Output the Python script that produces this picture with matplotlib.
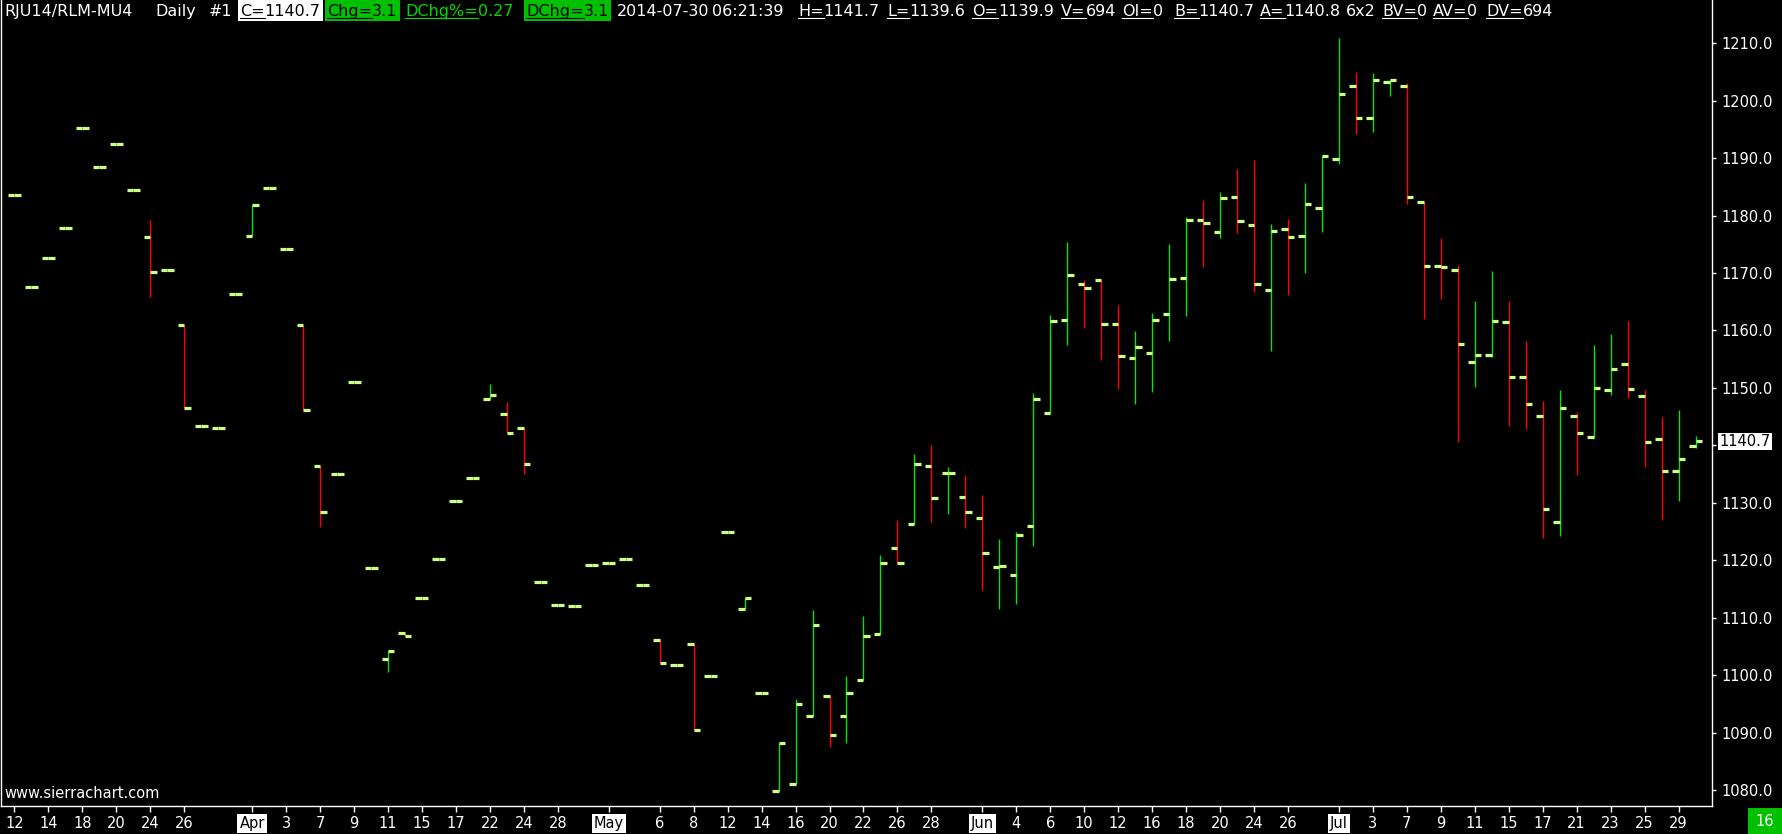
import numpy as np
import matplotlib
matplotlib.use("Agg")
import matplotlib.pyplot as plt
from matplotlib.transforms import IdentityTransform
from matplotlib.patches import Rectangle
from matplotlib.lines import Line2D

# daily OHLC, 2014-03-12 .. 2014-07-30 (100 sessions)
opens = [
    1183.5, 1167.5, 1172.6, 1177.9, 1195.2, 1188.5, 1192.5, 1184.4, 1176.3, 1170.6,
    1161.0, 1143.4, 1143.0, 1166.4, 1176.5, 1184.8, 1174.1, 1161.0, 1136.5, 1135.1,
    1151.1, 1118.7, 1102.8, 1107.4, 1113.5, 1120.2, 1130.3, 1134.3, 1148.0, 1145.4,
    1143.0, 1116.2, 1112.2, 1112.0, 1119.3, 1119.5, 1120.2, 1115.7, 1106.1, 1101.8,
    1105.4, 1099.9, 1124.9, 1111.5, 1096.9, 1079.9, 1081.1, 1092.9, 1096.5, 1092.9,
    1099.3, 1107.2, 1122.1, 1126.3, 1136.5, 1135.2, 1131.0, 1127.4, 1118.9, 1117.4,
    1126.0, 1145.7, 1161.9, 1168.0, 1168.7, 1161.1, 1155.2, 1156.1, 1162.8, 1169.1,
    1179.2, 1177.1, 1183.2, 1178.3, 1167.0, 1177.6, 1176.4, 1181.3, 1189.8, 1202.6,
    1196.9, 1203.2, 1202.5, 1182.4, 1171.3, 1170.5, 1154.6, 1155.7, 1161.5, 1151.9,
    1145.1, 1126.7, 1145.2, 1141.5, 1149.6, 1154.1, 1148.6, 1141.1, 1135.6, 1139.9,
]
highs = [
    1183.5, 1167.5, 1172.6, 1177.9, 1195.2, 1188.5, 1192.5, 1184.4, 1179.2, 1170.6,
    1161.0, 1143.4, 1143.0, 1166.4, 1181.9, 1184.8, 1174.1, 1161.0, 1136.5, 1135.1,
    1151.1, 1118.7, 1104.3, 1107.4, 1113.5, 1120.2, 1130.3, 1134.3, 1150.7, 1147.6,
    1143.0, 1116.2, 1112.2, 1112.0, 1119.3, 1119.5, 1120.2, 1115.7, 1106.1, 1101.8,
    1105.4, 1099.9, 1124.9, 1113.4, 1096.9, 1088.2, 1095.9, 1111.4, 1096.5, 1099.9,
    1110.3, 1121.0, 1127.1, 1138.5, 1140.1, 1136.2, 1134.9, 1131.4, 1123.7, 1124.9,
    1149.2, 1162.7, 1175.4, 1168.7, 1168.7, 1164.4, 1159.9, 1163.0, 1175.1, 1179.7,
    1182.7, 1184.1, 1188.1, 1189.6, 1178.5, 1179.4, 1185.7, 1190.3, 1210.9, 1204.9,
    1204.8, 1203.5, 1203.1, 1182.4, 1176.1, 1171.4, 1165.1, 1170.3, 1165.1, 1158.2,
    1147.7, 1149.7, 1145.8, 1157.5, 1159.4, 1161.6, 1149.7, 1145.0, 1146.2, 1141.7,
]
lows = [
    1183.5, 1167.5, 1172.6, 1177.9, 1195.2, 1188.5, 1192.5, 1184.4, 1165.8, 1170.6,
    1146.6, 1143.4, 1143.0, 1166.4, 1176.5, 1184.8, 1174.1, 1146.2, 1125.9, 1135.1,
    1151.1, 1118.7, 1100.6, 1106.9, 1113.5, 1120.2, 1130.3, 1134.3, 1148.0, 1142.1,
    1135.0, 1116.2, 1112.2, 1112.0, 1119.3, 1119.5, 1120.2, 1115.7, 1102.1, 1101.8,
    1090.6, 1099.9, 1124.9, 1111.5, 1096.9, 1079.9, 1081.1, 1092.9, 1087.6, 1088.2,
    1099.3, 1107.2, 1119.5, 1126.3, 1126.7, 1128.1, 1125.6, 1114.9, 1111.6, 1112.5,
    1122.6, 1145.7, 1157.5, 1160.5, 1154.9, 1149.9, 1147.3, 1149.3, 1158.2, 1162.6,
    1171.1, 1176.0, 1177.0, 1166.7, 1156.5, 1166.2, 1170.0, 1177.1, 1189.0, 1194.2,
    1194.5, 1200.8, 1182.0, 1162.0, 1165.4, 1140.6, 1150.1, 1155.4, 1143.4, 1142.9,
    1123.9, 1124.2, 1134.9, 1141.5, 1148.8, 1148.2, 1136.2, 1127.1, 1130.4, 1139.6,
]
closes = [
    1183.5, 1167.5, 1172.6, 1177.9, 1195.2, 1188.5, 1192.5, 1184.4, 1170.1, 1170.6,
    1146.6, 1143.4, 1143.0, 1166.4, 1181.9, 1184.8, 1174.1, 1146.2, 1128.5, 1135.1,
    1151.1, 1118.7, 1104.3, 1106.9, 1113.5, 1120.2, 1130.3, 1134.3, 1148.7, 1142.1,
    1136.7, 1116.2, 1112.2, 1112.0, 1119.3, 1119.5, 1120.2, 1115.7, 1102.1, 1101.8,
    1090.6, 1099.9, 1124.9, 1113.4, 1096.9, 1088.2, 1095.0, 1108.7, 1089.6, 1096.9,
    1106.9, 1119.5, 1119.5, 1136.7, 1130.8, 1135.2, 1128.4, 1121.3, 1119.0, 1124.4,
    1148.0, 1161.6, 1169.6, 1167.4, 1161.2, 1155.6, 1157.1, 1161.8, 1168.9, 1179.2,
    1178.7, 1183.0, 1179.0, 1168.0, 1177.3, 1176.2, 1182.0, 1190.3, 1201.1, 1196.9,
    1203.5, 1203.5, 1183.2, 1171.3, 1171.0, 1157.7, 1155.7, 1161.6, 1151.9, 1147.2,
    1128.9, 1146.5, 1142.1, 1150.0, 1153.3, 1149.8, 1140.6, 1135.6, 1137.6, 1140.7,
]

# date axis: every second session, month names replace the first day
tick_pos = [0, 2, 4, 6, 8, 10, 14, 16, 18, 20, 22, 24, 26, 28, 30, 32,
            35, 38, 40, 42, 44, 46, 48, 50, 52, 54,
            57, 59, 61, 63, 65, 67, 69, 71, 73, 75,
            78, 80, 82, 84, 86, 88, 90, 92, 94, 96, 98]
tick_text = ["12", "14", "18", "20", "24", "26", "Apr", "3", "7", "9", "11", "15", "17", "22", "24", "28",
             "May", "6", "8", "12", "14", "16", "20", "22", "26", "28",
             "Jun", "4", "6", "10", "12", "16", "18", "20", "24", "26",
             "Jul", "3", "7", "9", "11", "15", "17", "21", "23", "25", "29"]
months = ["Apr", "May", "Jun", "Jul"]

price_ticks = [1080, 1090, 1100, 1110, 1120, 1130, 1140, 1150, 1160, 1170, 1180, 1190, 1200, 1210]
last_price = 1140.7

header = [
    ("", "RJU14/RLM-MU4", None), ("", "Daily", None), ("", "#1", None),
    ("C=", "1140.7", "box"), ("Chg=", "3.1", "green_box"), ("DChg%=", "0.27", "green"),
    ("DChg=", "3.1", "green_box"), ("", "2014-07-30", None), ("", "06:21:39", None),
    ("H=", "1141.7", None), ("L=", "1139.6", None), ("O=", "1139.9", None), ("V=", "694", None),
    ("OI=", "0", None), ("B=", "1140.7", None), ("A=", "1140.8", None), ("", "6x2", None),
    ("BV=", "0", None), ("AV=", "0", None), ("DV=", "694", None),
]
header_x = [4, 155, 209, 240, 327, 405, 526, 617, 712, 798, 887, 972, 1061, 1122,
            1174, 1260, 1346, 1382, 1433, 1486]

W, H = 1783, 834
TICK_COL = "#ccff88"
UP_COL = "#00e600"
DN_COL = "#ff0000"
GREEN_BG = "#00c000"
FONT = "DejaVu Sans"
HFS = 11.5

fig = plt.figure(figsize=(W / 100, H / 100), dpi=100, facecolor="black")
ax = fig.add_axes([1 / W, 28 / H, 1711 / W, 806 / H])
ax.set_facecolor("black")

o = np.array(opens)
hi = np.array(highs)
lo = np.array(lows)
c = np.array(closes)
x = np.arange(len(o))
cols = np.where(c >= o, UP_COL, DN_COL)

half = 0.382
ax.vlines(x, lo, hi, colors=cols, linewidth=1.0, zorder=2)
lc1 = ax.hlines(o, x - half, x, colors=TICK_COL, linewidth=2.3, zorder=3)
lc2 = ax.hlines(c, x, x + half, colors=TICK_COL, linewidth=2.3, zorder=3)
lc1.set_capstyle("butt")
lc2.set_capstyle("butt")

ax.set_xlim(-0.79, 99.97)
ax.set_ylim(1077.3, 1217.48)

ax.spines["top"].set_visible(False)
for s in ["left", "bottom", "right"]:
    ax.spines[s].set_color("white")
    ax.spines[s].set_linewidth(1.0)

ax.yaxis.tick_right()
ax.set_yticks(price_ticks)
ax.set_yticklabels(["" if p == 1140 else f"{p:.1f}" for p in price_ticks])
ax.tick_params(axis="y", colors="white", direction="out", length=3, width=1,
               labelsize=10.5, pad=4)
ax.set_xticks(tick_pos)
ax.set_xticklabels(tick_text)
ax.tick_params(axis="x", colors="white", direction="out", length=4, width=1,
               labelsize=10.5, pad=3)
for lab in ax.get_xticklabels():
    lab.set_fontfamily(FONT)
    if lab.get_text() in months:
        lab.set_color("black")
        lab.set_bbox(dict(facecolor="white", edgecolor="none", pad=1.5))
for lab in ax.get_yticklabels():
    lab.set_fontfamily(FONT)

# last price marker on the scale
ax.annotate(f"{last_price:.1f}", xy=(1.0, last_price), xycoords=("axes fraction", "data"),
            xytext=(7, 0), textcoords="offset pixels", va="center", ha="left",
            fontsize=10.5, family=FONT, color="black",
            bbox=dict(facecolor="white", edgecolor="none", pad=1.0), annotation_clip=False)

ident = IdentityTransform()
renderer = fig.canvas.get_renderer()

# header line
base = H - 16
for (lbl, val, style), x0 in zip(header, header_x):
    fg = "white"
    if style in ("box", "green_box"):
        fg = "black"
    elif style == "green":
        fg = "#00d800"
    cur = x0
    if lbl:
        t = fig.text(cur, base, lbl, transform=ident, color=fg, fontsize=HFS, family=FONT,
                     va="baseline", ha="left", zorder=5)
        bb = t.get_window_extent(renderer)
        fig.add_artist(Line2D([cur, bb.x1], [base - 2, base - 2], transform=ident,
                              color=fg, linewidth=0.8, zorder=5))
        cur = bb.x1
    t = fig.text(cur, base, val, transform=ident, color=fg, fontsize=HFS, family=FONT,
                 va="baseline", ha="left", zorder=5)
    bb = t.get_window_extent(renderer)
    if style in ("box", "green_box"):
        bg = "white" if style == "box" else GREEN_BG
        fig.add_artist(Rectangle((x0 - 2, H - 21), bb.x1 - x0 + 4, 21, transform=ident,
                                 facecolor=bg, edgecolor="none", zorder=4))

fig.text(4, H - 802 + 4, "www.sierrachart.com", transform=ident, color="white",
         fontsize=10.5, family=FONT, va="baseline", ha="left")

# bar countdown box
fig.add_artist(Rectangle((1748, 0), 35, 26, transform=ident, facecolor=GREEN_BG,
                         edgecolor="none"))
fig.text(1765, 13, "16", transform=ident, color="white", fontsize=10.5, family=FONT,
         va="center", ha="center")

fig.savefig("out.png", dpi=100, facecolor="black")
